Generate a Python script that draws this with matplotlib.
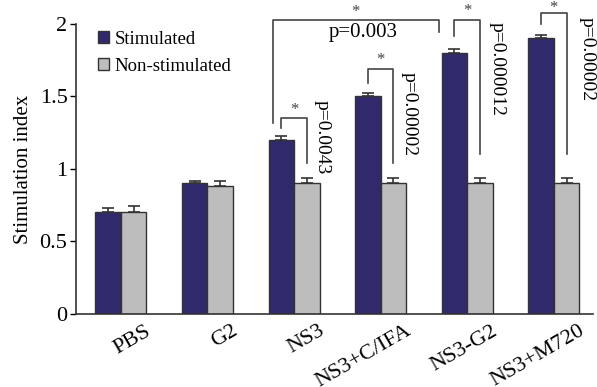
import matplotlib.pyplot as plt
import matplotlib.transforms as mtransforms
import numpy as np

groups = ['PBS', 'G2', 'NS3', 'NS3+C/IFA', 'NS3-G2', 'NS3+M720']
stim = [0.70, 0.90, 1.20, 1.50, 1.80, 1.90]
stim_err = [0.03, 0.02, 0.03, 0.025, 0.03, 0.025]
nonstim = [0.70, 0.88, 0.90, 0.90, 0.90, 0.90]
nonstim_err = [0.045, 0.04, 0.04, 0.04, 0.04, 0.04]
pvals = ['p=0.0043', 'p=0.00002', 'p=0.000012', 'p=0.00002']

plt.rcParams['font.family'] = ['Liberation Serif', 'DejaVu Serif']

fig = plt.figure(figsize=(5.97, 3.87), dpi=100)
ax = fig.add_axes([0.127, 0.189, 0.866, 0.749])

x = np.arange(len(groups))
w = 0.295
navy = '#302a6c'
grey = '#bdbdbd'
edge = '#333333'
ekw = dict(ecolor=edge, elinewidth=1.2, capsize=4, capthick=1.2)
zeros = [0] * len(groups)
ax.bar(x - w / 2, stim, w, color=navy, edgecolor=edge, linewidth=1, label='Stimulated',
       yerr=[zeros, stim_err], error_kw=ekw)
ax.bar(x + w / 2, nonstim, w, color=grey, edgecolor=edge, linewidth=1, label='Non-stimulated',
       yerr=[zeros, nonstim_err], error_kw=ekw)

ax.set_xlim(-0.52, 5.45)
ax.set_ylim(0, 2)
ax.set_yticks([0, 0.5, 1, 1.5, 2])
ax.set_yticklabels(['0', '0.5', '1', '1.5', '2'], fontsize=16)
ax.set_xticks(x)
ax.set_xticklabels([])
ax.tick_params(axis='x', length=0)
ax.tick_params(axis='y', length=4, width=1, pad=2)
ax.set_ylabel('Stimulation index', fontsize=15, labelpad=5)
for s in ['top', 'right']:
    ax.spines[s].set_visible(False)
for s in ['left', 'bottom']:
    ax.spines[s].set_color('#333333')
    ax.spines[s].set_linewidth(1.2)

# rotated group labels
off = mtransforms.ScaledTranslation(0.29, -0.16, fig.dpi_scale_trans)
for xi, g in zip(x, groups):
    ax.text(xi, 0, g, rotation=30, ha='right', va='center', rotation_mode='anchor',
            fontsize=16, transform=ax.get_xaxis_transform() + off)

lc = '#444444'


def bracket(x1, y1, x2, y2, ytop, star_y):
    ax.plot([x1, x1, x2, x2], [y1, ytop, ytop, y2], color=lc, lw=1.2, clip_on=False)
    ax.text((x1 + x2) / 2, star_y, '*', ha='center', va='center', fontsize=12, color=lc, clip_on=False)


# pairwise brackets stim vs non-stim
bracket(2 - w / 2, 1.28, 2 + w / 2, 1.04, 1.35, 1.41)
bracket(3 - w / 2, 1.59, 3 + w / 2, 1.04, 1.69, 1.75)
bracket(4 - w / 2, 1.92, 4 + w / 2, 1.10, 2.03, 2.09)
bracket(5 - w / 2, 2.00, 5 + w / 2, 1.10, 2.076, 2.11)
# NS3 vs NS3-G2
bracket(1.755, 1.32, 3.67, 1.945, 2.03, 2.08)
ax.text(2.8, 1.94, 'p=0.003', ha='center', va='center', fontsize=15)

px = [2.32, 3.33, 4.35, 5.38]
py = [1.22, 1.38, 1.69, 1.76]
for xx, yy, t in zip(px, py, pvals):
    ax.text(xx, yy, t, rotation=-90, ha='center', va='center', fontsize=14, clip_on=False)

ax.legend(loc='upper left', bbox_to_anchor=(0.01, 1.035), frameon=False, fontsize=13.5,
          handlelength=0.6, handleheight=0.6, handletextpad=0.3, labelspacing=0.55)

fig.savefig('out.png', dpi=100)
